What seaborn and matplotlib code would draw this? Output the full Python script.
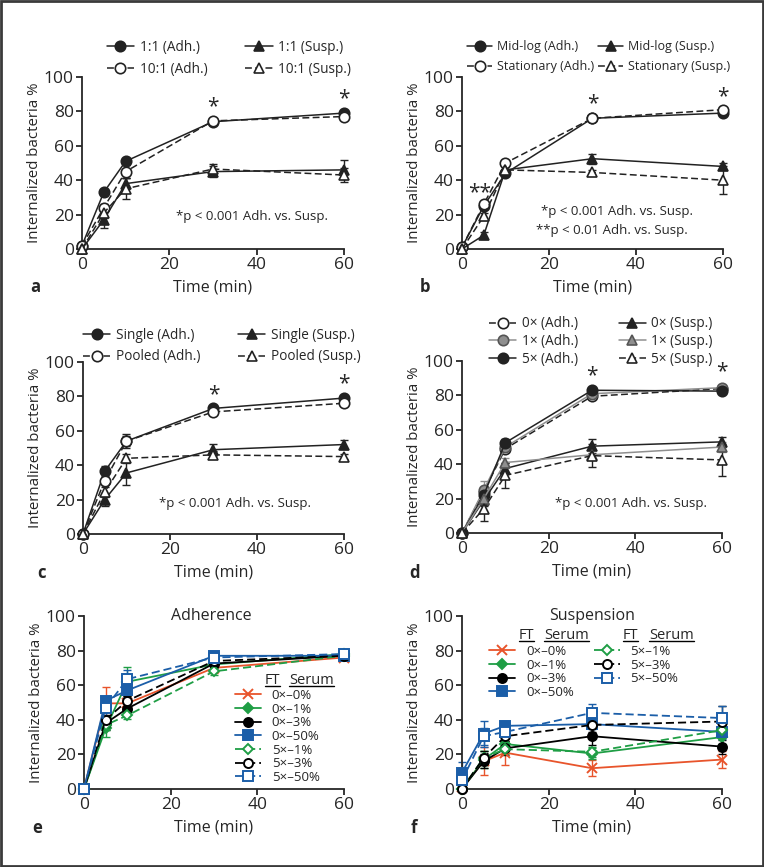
import matplotlib
matplotlib.use("Agg")
import matplotlib.pyplot as plt
import seaborn as sns
from matplotlib.lines import Line2D
from matplotlib.patches import Rectangle

# sampling times (min)
time = [0, 5, 10, 30, 60]

# panel a: MOI
a_adh_11 = [2, 33, 51, 74, 79]
a_adh_11_err = [1, 2, 2, 1.5, 1.5]
a_adh_101 = [2, 24, 45, 74.5, 77]
a_adh_101_err = [1, 2, 4, 1.5, 1.5]
a_sus_11 = [0, 17, 38, 45, 46]
a_sus_11_err = [0.5, 5, 3, 3, 5.5]
a_sus_101 = [0, 21, 35, 46.5, 43]
a_sus_101_err = [0.5, 3, 6, 3, 4]

# panel b: growth phase
b_adh_mid = [1, 25, 44, 76, 79]
b_adh_mid_err = [0.5, 2, 1.5, 1.5, 1]
b_adh_stat = [1, 26, 50, 76, 81]
b_adh_stat_err = [0.5, 2, 1.5, 1.5, 1.5]
b_sus_mid = [0, 8, 46, 52.5, 48]
b_sus_mid_err = [0.3, 2, 2, 3, 2]
b_sus_stat = [0, 19, 46, 44.5, 40]
b_sus_stat_err = [0.3, 2, 2, 1.5, 8]

# panel c: single vs pooled
c_adh_single = [0, 36.5, 54, 73, 79]
c_adh_single_err = [0.3, 3, 3, 1, 1]
c_adh_pooled = [0, 31, 54, 71, 76]
c_adh_pooled_err = [0.3, 2, 4, 1.5, 1.5]
c_sus_single = [0, 20, 35.5, 49, 52]
c_sus_single_err = [0.3, 4, 7, 3.5, 2.5]
c_sus_pooled = [0, 24.5, 44, 46, 45]
c_sus_pooled_err = [0.3, 3, 2.5, 2, 1.5]

# panel d: freeze-thaw cycles
d_adh_0 = [0, 24, 49, 79.5, 84]
d_adh_0_err = [0.3, 3, 2, 1.5, 1.5]
d_adh_1 = [0, 25, 50, 81, 84.5]
d_adh_1_err = [0.3, 5, 2, 1.5, 1.5]
d_adh_5 = [0, 22, 52.5, 83, 82.5]
d_adh_5_err = [0.3, 3, 2, 1, 1]
d_sus_0 = [0, 19, 37.5, 50.5, 53]
d_sus_0_err = [0.3, 3, 3, 4, 3]
d_sus_1 = [0, 20, 41, 45.5, 50]
d_sus_1_err = [0.3, 3, 2.5, 3, 3]
d_sus_5 = [0, 14, 33.5, 45, 42.5]
d_sus_5_err = [0.3, 7, 7.5, 6.5, 9.5]

# panels e/f: FT x serum
ft_labels = ["0\u00d7\u20130%", "0\u00d7\u20131%", "0\u00d7\u20133%", "0\u00d7\u201350%",
             "5\u00d7\u20131%", "5\u00d7\u20133%", "5\u00d7\u201350%"]
e_vals = [[0, 49.5, 49.5, 70, 76], [0, 35, 62, 72, 78], [0, 38, 46.5, 72.5, 77],
          [0, 51, 57, 77, 77], [0, 37, 42.5, 68, 77], [0, 40, 51, 74, 77],
          [0, 47, 63.5, 76, 78]]
e_errs = [[0.5, 9.5, 4.5, 3, 1.5], [0.5, 5, 8.5, 2, 1.5], [0.5, 4, 3, 2, 1],
          [0.5, 3, 4, 2, 1], [0.5, 3, 2, 2, 1], [0.5, 3, 3, 2, 1],
          [0.5, 5, 5, 1.5, 1]]
f_vals = [[1, 16, 21, 12, 17], [0, 17, 26, 20.5, 30], [0, 16, 23.5, 30.5, 24.5],
          [9.5, 32, 36.5, 37.5, 33], [0, 18, 23, 21.5, 34], [0, 18, 30.5, 37, 39],
          [5, 30.5, 33, 44, 41]]
f_errs = [[0.5, 8, 7, 4.5, 5], [0.5, 5, 4, 3, 4], [0.5, 4, 4, 5, 4],
          [6, 7.5, 3, 3, 4], [0.5, 4, 3, 3, 8], [0.5, 4, 3, 4, 9],
          [3, 5, 3, 5, 7]]

RED, GREEN, BLUE = "#E8542B", "#1F9E45", "#1B5EA8"
GRAY = "#8f8f8f"
ft_colors = [RED, GREEN, "black", BLUE, GREEN, "black", BLUE]
ft_markers = ["x", "D", "o", "s", "D", "o", "s"]
ft_filled = [True, True, True, True, False, False, False]

sns.set_style("ticks")
plt.rcParams["font.family"] = ["Open Sans", "DejaVu Sans"]
plt.rcParams["axes.linewidth"] = 1.3
plt.rcParams["xtick.major.width"] = 1.3
plt.rcParams["ytick.major.width"] = 1.3
plt.rcParams["xtick.major.size"] = 4
plt.rcParams["ytick.major.size"] = 4

fig = plt.figure(figsize=(7.64, 8.67), dpi=100)
boxes = {
    "a": [0.1073, 0.7128, 0.3429, 0.1984],
    "b": [0.6047, 0.7128, 0.3416, 0.1984],
    "c": [0.1086, 0.3841, 0.3416, 0.1984],
    "d": [0.6047, 0.3852, 0.3403, 0.1984],
    "e": [0.1099, 0.0900, 0.3403, 0.1995],
    "f": [0.6047, 0.0900, 0.3403, 0.1995],
}
axes = {k: fig.add_axes(v) for k, v in boxes.items()}


def series(ax, y, err, color, marker, ls, mfc, label, ms=7.5, mec=None, lw=1.1, mew=1.2):
    ax.errorbar(time, y, yerr=err, fmt="none", ecolor=color, elinewidth=1.0,
                capsize=3, capthick=1.0, clip_on=False, zorder=2)
    sns.lineplot(x=time, y=y, ax=ax, color=color, marker=marker, linestyle=ls,
                 markerfacecolor=mfc, markeredgecolor=mec or color, markersize=ms,
                 markeredgewidth=mew, linewidth=lw, label=label, errorbar=None,
                 clip_on=False, zorder=3, dashes=False)


def style_axis(ax):
    ax.set_xlim(0, 60)
    ax.set_ylim(0, 100)
    ax.set_xticks([0, 20, 40, 60])
    ax.set_yticks([0, 20, 40, 60, 80, 100])
    ax.tick_params(labelsize=12.5, pad=2)
    ax.set_xlabel("Time (min)", fontsize=11.5, labelpad=4.5)
    ax.set_ylabel("Internalized bacteria %", fontsize=10.8, labelpad=1)
    sns.despine(ax=ax)


DASH = (0, (4.5, 2.2))

# ---- a
ax = axes["a"]
series(ax, a_adh_11, a_adh_11_err, "#222222", "o", "-", "#222222", "1:1 (Adh.)")
series(ax, a_adh_101, a_adh_101_err, "#222222", "o", DASH, "white", "10:1 (Adh.)")
series(ax, a_sus_11, a_sus_11_err, "#222222", "^", "-", "#222222", "1:1 (Susp.)")
series(ax, a_sus_101, a_sus_101_err, "#222222", "^", DASH, "white", "10:1 (Susp.)")
ax.text(30, 82.5, "*", ha="center", va="center", fontsize=15)
ax.text(60, 87.5, "*", ha="center", va="center", fontsize=15)
ax.text(39, 19, "*p < 0.001 Adh. vs. Susp.", ha="center", va="center", fontsize=9.5)

# ---- b
ax = axes["b"]
series(ax, b_adh_mid, b_adh_mid_err, "#222222", "o", "-", "#222222", "Mid-log (Adh.)")
series(ax, b_adh_stat, b_adh_stat_err, "#222222", "o", DASH, "white", "Stationary (Adh.)")
series(ax, b_sus_mid, b_sus_mid_err, "#222222", "^", "-", "#222222", "Mid-log (Susp.)")
series(ax, b_sus_stat, b_sus_stat_err, "#222222", "^", DASH, "white", "Stationary (Susp.)")
ax.text(30, 84.5, "*", ha="center", va="center", fontsize=15)
ax.text(60, 88.5, "*", ha="center", va="center", fontsize=15)
ax.text(4, 33, "**", ha="center", va="center", fontsize=15)
ax.text(35.6, 22, "*p < 0.001 Adh. vs. Susp.", ha="center", va="center", fontsize=9.5)
ax.text(34.5, 11, "**p < 0.01 Adh. vs. Susp.", ha="center", va="center", fontsize=9.5)

# ---- c
ax = axes["c"]
series(ax, c_adh_single, c_adh_single_err, "#222222", "o", "-", "#222222", "Single (Adh.)")
series(ax, c_adh_pooled, c_adh_pooled_err, "#222222", "o", DASH, "white", "Pooled (Adh.)")
series(ax, c_sus_single, c_sus_single_err, "#222222", "^", "-", "#222222", "Single (Susp.)")
series(ax, c_sus_pooled, c_sus_pooled_err, "#222222", "^", DASH, "white", "Pooled (Susp.)")
ax.text(30, 81, "*", ha="center", va="center", fontsize=15)
ax.text(60, 87.5, "*", ha="center", va="center", fontsize=15)
ax.text(35, 18, "*p < 0.001 Adh. vs. Susp.", ha="center", va="center", fontsize=9.5)

# ---- d
ax = axes["d"]
series(ax, d_adh_0, d_adh_0_err, "#222222", "o", DASH, "white", "0\u00d7 (Adh.)")
series(ax, d_adh_1, d_adh_1_err, GRAY, "o", "-", GRAY, "1\u00d7 (Adh.)", mec="#555555")
series(ax, d_adh_5, d_adh_5_err, "#222222", "o", "-", "#222222", "5\u00d7 (Adh.)")
series(ax, d_sus_0, d_sus_0_err, "#222222", "^", "-", "#222222", "0\u00d7 (Susp.)")
series(ax, d_sus_1, d_sus_1_err, GRAY, "^", "-", GRAY, "1\u00d7 (Susp.)", mec="#555555")
series(ax, d_sus_5, d_sus_5_err, "#222222", "^", DASH, "white", "5\u00d7 (Susp.)")
ax.text(30, 91.5, "*", ha="center", va="center", fontsize=15)
ax.text(60, 93.5, "*", ha="center", va="center", fontsize=15)
ax.text(39, 17, "*p < 0.001 Adh. vs. Susp.", ha="center", va="center", fontsize=9.5)

# ---- e / f
for key, vals, errs in (("e", e_vals, e_errs), ("f", f_vals, f_errs)):
    ax = axes[key]
    for lab, y, err, col, mk, filled in zip(ft_labels, vals, errs, ft_colors,
                                            ft_markers, ft_filled):
        ms = 6.5 if mk != "D" else 5.5
        if mk == "x":
            ms = 7
        series(ax, y, err, col, mk, "-" if filled else DASH,
               col if filled else "white", lab, ms=ms, lw=1.3, mew=1.4)

for ax in axes.values():
    style_axis(ax)

axes["e"].text(0.49, 1.0, "Adherence", transform=axes["e"].transAxes,
               ha="center", va="center", fontsize=11.5)
axes["f"].text(0.5, 1.0, "Suspension", transform=axes["f"].transAxes,
               ha="center", va="center", fontsize=11.5)

# legends
leg_kw = dict(frameon=False, borderpad=0, borderaxespad=0,
              handlelength=2.0, handletextpad=0.4, loc="upper left")
legend_pos = {"a": ((0.095, 1.215), 2.8, 0.5, 9.8),
              "b": ((0.02, 1.215), 0.3, 0.55, 9.0),
              "c": ((0.0, 1.20), 2.8, 0.5, 9.8),
              "d": ((0.104, 1.26), 3.0, 0.2, 9.8)}
for key, (anchor, colsp, labsp, fs) in legend_pos.items():
    h, l = axes[key].get_legend_handles_labels()
    axes[key].legend(h, l, ncol=2, bbox_to_anchor=anchor, columnspacing=colsp,
                     labelspacing=labsp, fontsize=fs, **leg_kw)

h, l = axes["e"].get_legend_handles_labels()
axes["e"].legend(h, l, ncol=1, bbox_to_anchor=(0.58, 0.578), labelspacing=0.05,
                 fontsize=9.5, **{**leg_kw, "handletextpad": 0.8})
h, l = axes["f"].get_legend_handles_labels()
axes["f"].legend(h, l, ncol=2, bbox_to_anchor=(0.104, 0.832), labelspacing=0.05,
                 columnspacing=1.5, fontsize=9.5, **{**leg_kw, "handletextpad": 0.8})

headers = []
for key, x, y, s in (("e", 0.696, 0.607, "FT"), ("e", 0.788, 0.607, "Serum"),
                     ("f", 0.219, 0.867, "FT"), ("f", 0.315, 0.867, "Serum"),
                     ("f", 0.619, 0.867, "FT"), ("f", 0.719, 0.867, "Serum")):
    headers.append(axes[key].text(x, y, s, transform=axes[key].transAxes,
                                  ha="left", va="baseline", fontsize=10.5))

# panel letters
for s, x, y in (("a", 35, 287), ("b", 425, 287), ("c", 42, 573),
                ("d", 414, 573), ("e", 37, 828), ("f", 414, 828)):
    fig.text(x / 764, 1 - y / 867, s, ha="center", va="center",
             fontsize=12, fontweight="bold")

fig.canvas.draw()
inv = fig.transFigure.inverted()
for t in headers:
    bb = t.get_window_extent()
    (x0, y0), (x1, _) = inv.transform([[bb.x0, bb.y0 + 2], [bb.x1, bb.y0]])
    fig.add_artist(Line2D([x0, x1], [y0, y0], transform=fig.transFigure,
                          color="black", lw=1.0))

fig.add_artist(Rectangle((0.0015, 0.0015), 0.997, 0.997, transform=fig.transFigure,
                         fill=False, lw=2, ec="#3a3a3a"))

fig.savefig("out.png", dpi=100)
